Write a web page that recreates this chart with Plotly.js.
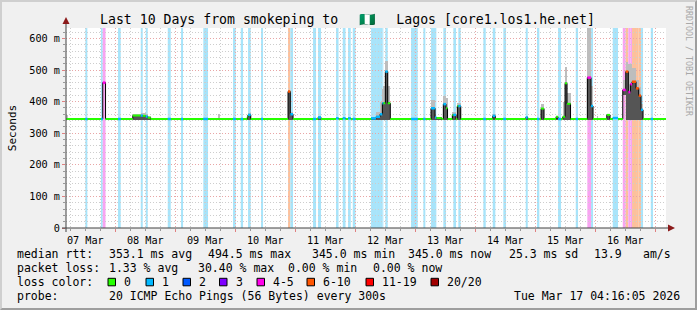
<!DOCTYPE html>
<html><head><meta charset="utf-8">
<script src="https://cdn.plot.ly/plotly-3.0.1.min.js"></script>
<style>
html,body{margin:0;padding:0;background:#f0f0f0;}
#wrap{position:relative;width:697px;height:310px;overflow:hidden;}
#chart{position:absolute;left:0;top:0;width:697px;height:310px;}
#frame{position:absolute;left:0;top:0;width:697px;height:310px;box-sizing:border-box;border-top:2px solid #cfcfcf;border-left:2px solid #cfcfcf;border-right:2px solid #9e9e9e;border-bottom:2px solid #9e9e9e;pointer-events:none;}
</style>
</head><body><div id="wrap"><div id="chart"></div><div id="frame"></div></div>
<script>
// ---------------- DATA ----------------
const YEAR = 2026;
const rangeStart = '2026-03-07 04:16:05';
const rangeEnd   = '2026-03-17 04:16:05';
const baselineRtt = 345;   // ms, median rtt outside listed periods (0 loss)

// periods that differ from the baseline (times, median rtt ms, lost pings of 20, smoke min/max ms)
const segStart = ['03-07 04:20','03-07 12:00','03-07 18:15','03-07 18:58','03-08 01:05','03-08 06:58','03-08 10:10','03-08 10:58','03-08 12:10','03-08 12:58',
  '03-08 20:58','03-09 02:17','03-09 11:12','03-09 17:05','03-09 23:05','03-10 02:10','03-10 04:48','03-10 05:05','03-10 10:17','03-10 21:05',
  '03-10 22:00','03-11 07:05','03-11 09:05','03-11 16:17','03-11 18:58','03-11 21:05','03-11 22:58','03-12 06:17','03-12 08:17','03-12 09:53',
  '03-12 10:48','03-12 11:12','03-12 12:00','03-12 12:58','03-12 22:17','03-13 03:12','03-13 06:17','03-13 07:53','03-13 08:24','03-13 11:12',
  '03-13 12:17','03-13 14:48','03-13 15:12','03-13 16:48','03-13 17:12','03-14 03:12','03-14 06:58','03-14 11:12','03-14 20:10','03-15 00:41',
  '03-15 02:17','03-15 08:17','03-15 09:05','03-15 10:58','03-15 11:53','03-15 12:41','03-15 16:10','03-15 20:48','03-15 22:17','03-16 00:34',
  '03-16 04:34','03-16 06:58','03-16 10:58','03-16 12:10','03-16 13:12','03-16 14:00','03-16 14:41','03-16 16:17','03-16 17:22','03-16 18:17',
  '03-16 22:10'];
const segEnd = ['03-07 05:00','03-07 12:48','03-07 18:58','03-07 20:05','03-08 02:10','03-08 10:10','03-08 10:58','03-08 12:10','03-08 12:58','03-08 14:10',
  '03-08 22:10','03-09 03:05','03-09 13:05','03-09 17:53','03-10 00:10','03-10 03:05','03-10 05:05','03-10 06:10','03-10 11:05','03-10 22:00',
  '03-10 23:05','03-11 08:17','03-11 10:17','03-11 17:17','03-11 20:05','03-11 22:10','03-12 00:05','03-12 08:17','03-12 09:53','03-12 10:48',
  '03-12 11:12','03-12 12:00','03-12 12:58','03-12 14:00','03-13 00:58','03-13 04:00','03-13 07:53','03-13 08:24','03-13 10:34','03-13 12:17',
  '03-13 12:53','03-13 15:12','03-13 16:17','03-13 17:12','03-13 18:10','03-14 04:10','03-14 08:00','03-14 12:17','03-14 20:58','03-15 01:36',
  '03-15 03:29','03-15 09:05','03-15 10:17','03-15 11:53','03-15 12:41','03-15 14:05','03-15 17:05','03-15 22:17','03-15 23:05','03-16 01:05',
  '03-16 05:53','03-16 09:05','03-16 12:10','03-16 13:12','03-16 14:00','03-16 14:41','03-16 16:17','03-16 17:22','03-16 18:17','03-16 19:05',
  '03-16 23:05'];
const segMedian = [345,345,345,460,345,356,356,355,353,349,
  345,345,345,345,345,345,352,358,345,432,
  360,345,350,347,347,347,345,347,352,360,
  395,395,495,395,345,345,379,350,348,392,
  379,358,358,386,386,345,355,345,350,345,
  378,352,345,352,458,393,345,476,386,345,
  358,348,437,495,430,455,463,442,419,374,
  345];
const segLoss = [0,1,1,4,1,0,1,0,1,0,
  1,1,1,0,1,1,0,1,1,6,
  1,1,1,1,1,1,1,1,1,1,
  1,0,1,0,1,1,1,1,0,1,
  0,0,1,0,1,1,1,1,1,1,
  0,0,1,0,0,0,1,4,1,0,
  0,1,4,6,4,4,6,6,6,1,
  1];
const smokeMin = [343,null,null,null,null,343,343,343,343,343,
  null,null,null,343,null,null,343,343,null,343,
  343,null,343,null,null,null,null,343,343,343,
  343,343,343,343,null,null,343,343,343,343,
  343,343,343,343,343,null,343,null,343,null,
  343,343,null,343,343,343,null,343,343,343,
  343,null,420,343,343,343,343,343,343,343,
  null];
const smokeMax = [358,null,null,null,null,362,363,364,362,355,
  null,null,null,360,null,null,358,363,null,436,
  366,null,354,null,null,null,null,352,366,400,
  440,450,530,450,null,null,405,360,352,418,
  410,366,366,395,395,null,360,null,354,null,
  392,356,null,400,511,427,null,700,450,355,
  362,null,470,525,520,520,505,470,445,392,
  null];

const yTickVals  = [0,100,200,300,400,500,600];
const yTickText  = ['0','100 m','200 m','300 m','400 m','500 m','600 m'];
const yTop = 633;

const lossLabels  = ['0','1','2','3','4-5','6-10','11-19','20/20'];
const lossColors  = ['#26ff00','#00b8ff','#0059ff','#7e00ff','#ff00ea','#ff5500','#ff0000','#a10000'];
const lossBgColors= ['#ffffff','#a8e4fa','#a3c0fc','#cfa8fc','#f8a4f2','#fcc19c','#fca3a3','#e0a3a3'];

const rttLegend   = ['median rtt:','353.1 ms avg','494.5 ms max','345.0 ms min','345.0 ms now','25.3 ms sd','13.9','am/s'];
const lossLegend  = ['packet loss:','1.33 % avg','30.40 % max','0.00 % min','0.00 % now'];
const probeLegend = ['probe:','20 ICMP Echo Pings (56 Bytes) every 300s','Tue Mar 17 04:16:05 2026'];
const titleParts  = ['Last 10 Days from smokeping to', '🇳🇬', 'Lagos [core1.los1.he.net]'];

// ---------------- LAYOUT CONSTANTS (pixels) ----------------
const W=697,H=310, L=66, R=31, T=28, B=82, PW=W-L-R, PH=H-T-B;
const rttLegendX   = [16,107.5,207,311,407,508,593,642];
const lossLegendX  = [16,107.5,197,287,372];
const swatchX      = [108,146,183,219.5,257,307,366,431];
const probeLegendX = [16,107.5,513];
const legendRowY   = [253.5,268.3,282.3,296];
const MONO = 'DejaVu Sans Mono, monospace';

// ---------------- helpers ----------------
function toMs(s){const [md,hm]=s.split(' ');const [mo,d]=md.split('-').map(Number);const [h,mi]=hm.split(':').map(Number);return Date.UTC(YEAR,mo-1,d,h,mi);}
function strMs(s){const [d,t]=s.split(' ');const [y,mo,da]=d.split('-').map(Number);const [h,mi,se]=t.split(':').map(Number);return Date.UTC(y,mo-1,da,h,mi,se);}
function lossCat(l){return l===0?0:l===1?1:l===2?2:l===3?3:l<=5?4:l<=10?5:l<=19?6:7;}
const px = x => (x-L)/PW, py = y => (H-B-y)/PH;

// full step series
const t0 = strMs(rangeStart), t1 = strMs(rangeEnd);
const segs=[]; let cur=t0;
for(let i=0;i<segStart.length;i++){
  const s=toMs(segStart[i]), e=toMs(segEnd[i]);
  if(s>cur) segs.push({s:cur,e:s,m:baselineRtt,c:0});
  segs.push({s:s,e:e,m:segMedian[i],c:lossCat(segLoss[i])});
  cur=e;
}
if(cur<t1) segs.push({s:cur,e:t1,m:baselineRtt,c:0});

const traces=[];
// smoke (light = full ping range, dark = min..median)
const sx=[],sw=[],sb=[],sy=[],dx=[],dw=[],db=[],dy=[];
for(let i=0;i<segStart.length;i++){
  if(smokeMin[i]===null) continue;
  const s=toMs(segStart[i]), e=toMs(segEnd[i]);
  sx.push((s+e)/2); sw.push(e-s); sb.push(smokeMin[i]); sy.push(smokeMax[i]-smokeMin[i]);
  if(segMedian[i]-smokeMin[i]>3){dx.push((s+e)/2); dw.push(e-s); db.push(smokeMin[i]); dy.push(segMedian[i]-smokeMin[i]);}
}
traces.push({type:'bar',x:sx,y:sy,base:sb,width:sw,marker:{color:'#bdbdbd',line:{width:0}},showlegend:false,hoverinfo:'skip'});
traces.push({type:'bar',x:dx,y:dy,base:db,width:dw,marker:{color:'#555555',line:{width:0}},showlegend:false,hoverinfo:'skip'});
// black median step line
traces.push({type:'scatter',mode:'lines',x:segs.map(s=>s.s).concat([segs[segs.length-1].e]),y:segs.map(s=>s.m).concat([segs[segs.length-1].m]),
  line:{color:'#000',width:1,shape:'hv'},showlegend:false,hoverinfo:'skip'});
// coloured median segments by loss
for(let c=0;c<lossColors.length;c++){
  const x=[],y=[];
  segs.forEach(s=>{if(s.c===c){x.push(s.s,s.e,null);y.push(s.m,s.m,null);}});
  if(x.length) traces.push({type:'scatter',mode:'lines',x:x,y:y,line:{color:lossColors[c],width:c===0?2:2.5},showlegend:false,hoverinfo:'skip',connectgaps:false});
}

// loss background bands
const shapes=[];
segs.forEach(s=>{ if(s.c>0) shapes.push({type:'rect',xref:'x',yref:'paper',x0:s.s,x1:s.e,y0:0,y1:1,fillcolor:lossBgColors[s.c],line:{width:0},layer:'below'}); });

// axes lines & arrows
const axisCol='#404040', arrowCol='#8b1a1a';
shapes.push({type:'line',xref:'paper',yref:'paper',x0:px(62),x1:px(669),y0:0,y1:0,line:{color:axisCol,width:1}});
shapes.push({type:'line',xref:'paper',yref:'paper',x0:0,x1:0,y0:py(232),y1:py(22),line:{color:axisCol,width:1}});
shapes.push({type:'path',xref:'paper',yref:'paper',path:`M${px(668)},${py(224.5)} L${px(675)},${py(228)} L${px(668)},${py(231.5)} Z`,fillcolor:arrowCol,line:{width:0}});
shapes.push({type:'path',xref:'paper',yref:'paper',path:`M${px(62.5)},${py(24)} L${px(66)},${py(17)} L${px(69.5)},${py(24)} Z`,fillcolor:arrowCol,line:{width:0}});

// legend swatches
swatchX.forEach((x,i)=>shapes.push({type:'rect',xref:'paper',yref:'paper',x0:px(x),x1:px(x+7.5),y0:py(legendRowY[2]-4),y1:py(legendRowY[2]+3.5),fillcolor:lossColors[i],line:{color:'#000',width:1}}));

// annotations (legend text)
const annotations=[];
function ann(text,x,y,size){annotations.push({text:text,xref:'paper',yref:'paper',x:px(x),y:py(y),xanchor:'left',yanchor:'middle',showarrow:false,borderpad:0,font:{family:MONO,size:size||11.5,color:'#000'}});}
rttLegend.forEach((t,i)=>ann(t,rttLegendX[i],legendRowY[0]));
lossLegend.forEach((t,i)=>ann(t,lossLegendX[i],legendRowY[1]));
ann('loss color:',16,legendRowY[2]);
lossLabels.forEach((t,i)=>ann(t,swatchX[i]+15,legendRowY[2]));
probeLegend.forEach((t,i)=>ann(t,probeLegendX[i],legendRowY[3]));
annotations.push({text:'RRDTOOL / TOBI OETIKER',textangle:90,xref:'paper',yref:'paper',x:px(689),y:py(61),xanchor:'center',yanchor:'middle',showarrow:false,borderpad:0,font:{family:MONO,size:8.3,color:'#a8a8a8'}});

// title: wide spaces around the flag so it occupies the same room as in the reference
const wideSpace = '<span style="font-size:35px">\u00a0</span>';
const titleText = titleParts[0] + wideSpace + titleParts[1] + wideSpace + titleParts[2];

const gridMajor='#e8a6a6', gridMinor='#cdcdcd';
const layout={
  width:W,height:H,margin:{l:L,r:R,t:T,b:B,pad:0},
  paper_bgcolor:'rgba(0,0,0,0)',plot_bgcolor:'#ffffff',
  showlegend:false,barmode:'overlay',bargap:0,hovermode:false,
  title:{text:titleText,font:{family:MONO,size:13.2,color:'#000'},x:100/W,xref:'container',xanchor:'left',y:1-19/H,yref:'container',yanchor:'middle'},
  xaxis:{type:'date',range:[rangeStart,rangeEnd],tick0:'2026-03-07',dtick:86400000,tickformat:'%d %b',ticklabelmode:'period',
    showgrid:true,gridcolor:gridMajor,griddash:'1px,2px',gridwidth:1,zeroline:false,showline:false,
    ticks:'outside',ticklen:3,tickcolor:'#e08080',tickfont:{family:MONO,size:10.2,color:'#000'},
    minor:{dtick:6*3600000,tick0:'2026-03-07',showgrid:true,gridcolor:gridMinor,griddash:'1px,2px',ticks:'outside',ticklen:2,tickcolor:'#999'},fixedrange:true},
  yaxis:{range:[0,yTop],tickvals:yTickVals,ticktext:yTickText,showgrid:true,gridcolor:gridMajor,griddash:'1px,2px',zeroline:false,showline:false,
    ticks:'outside',ticklen:3,tickcolor:'#e08080',tickfont:{family:MONO,size:10.2,color:'#000'},
    minor:{dtick:20,showgrid:true,gridcolor:gridMinor,griddash:'1px,2px',ticks:'outside',ticklen:2,tickcolor:'#999'},
    title:{text:'Seconds',font:{family:MONO,size:11,color:'#000'},standoff:10},fixedrange:true},
  shapes:shapes,annotations:annotations
};
Plotly.newPlot('chart',traces,layout,{staticPlot:true,displayModeBar:false});
</script></body></html>
